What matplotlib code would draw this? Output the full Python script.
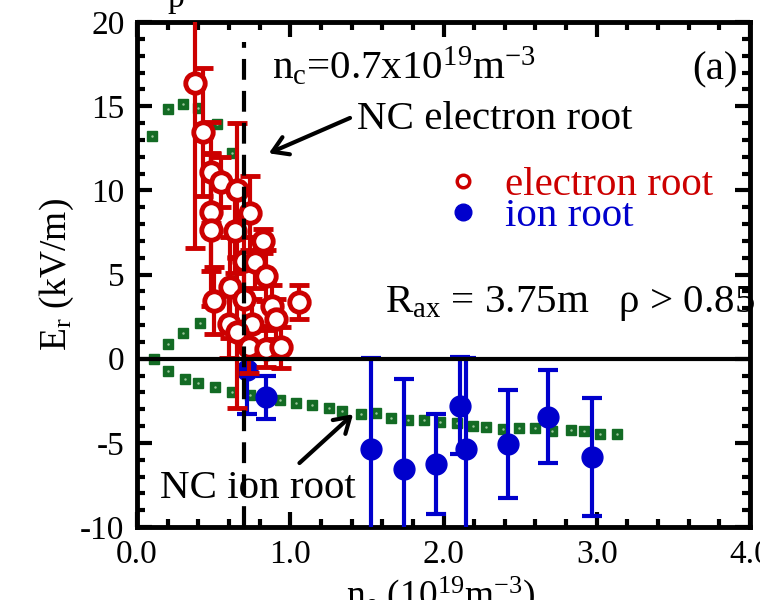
import matplotlib
matplotlib.use('Agg')
import matplotlib.pyplot as plt
from matplotlib.lines import Line2D
from matplotlib.ticker import MultipleLocator, FormatStrFormatter

plt.rcParams['font.family'] = ['Liberation Serif', 'DejaVu Serif']
plt.rcParams['mathtext.fontset'] = 'custom'
plt.rcParams['mathtext.rm'] = 'Liberation Serif'
plt.rcParams['mathtext.it'] = 'Liberation Serif:italic'
plt.rcParams['font.size'] = 24
plt.rcParams['axes.unicode_minus'] = False
plt.rcParams['lines.scale_dashes'] = False

RED = '#cc0000'
BLUE = '#0000cc'
GREEN = '#136b24'
TXT = 29.5

# measured Er, electron root
ne_elec = [0.38, 0.43, 0.48, 0.55, 0.65, 0.48, 0.48, 0.64, 0.74, 0.82, 0.70, 0.77, 0.84,
           0.61, 0.50, 0.70, 0.88, 1.06, 0.91, 0.60, 0.75, 0.65, 0.73, 0.84, 0.94]
er_elec = [16.4, 13.45, 11.07, 10.5, 10.0, 8.7, 7.65, 7.57, 8.64, 7.0, 5.8, 5.72, 4.93,
           4.24, 3.45, 3.55, 3.15, 3.35, 2.36, 2.06, 2.06, 1.56, 0.67, 0.58, 0.67]
err_elec = [9.8, 3.8, 3.0, 1.5, 4.0, 3.5, 4.5, 2.5, 2.2, 0.7, 2.5, 1.5, 1.5,
            3.0, 2.0, 2.0, 1.2, 1.0, 1.2, 2.0, 1.5, 4.5, 1.5, 1.1, 1.2]

# measured Er, ion root
ne_ion = [0.72, 0.84, 1.53, 1.74, 1.95, 2.11, 2.15, 2.42, 2.68, 2.97]
er_ion = [-0.67, -2.3, -5.37, -6.55, -6.26, -2.79, -5.37, -5.07, -3.45, -5.86]
err_ion = [2.6, 1.3, 5.4, 5.35, 2.95, 2.9, 5.4, 3.19, 2.75, 3.5]

# neoclassical calculation (green dots)
nc_up_x = [0.10, 0.20, 0.30, 0.40, 0.52, 0.62]
nc_up_y = [13.25, 14.85, 15.1, 14.9, 13.96, 12.24]
nc_mid_x = [0.20, 0.30, 0.41, 0.52, 0.62]
nc_mid_y = [0.9, 1.5, 2.1, 3.3, 4.6]
nc_ion_x = [0.11, 0.20, 0.31, 0.40, 0.51, 0.62, 0.74, 0.85, 0.93, 1.04, 1.14, 1.25, 1.34,
            1.46, 1.56, 1.66, 1.77, 1.87, 1.98, 2.09, 2.19, 2.28, 2.39, 2.49, 2.60, 2.71,
            2.83, 2.92, 3.02, 3.13]
nc_ion_y = [0.0, -0.71, -1.19, -1.43, -1.66, -1.96, -2.14, -2.32, -2.44, -2.61, -2.73,
            -2.91, -3.09, -3.27, -3.21, -3.5, -3.62, -3.62, -3.74, -3.80, -3.98, -4.04,
            -4.16, -4.10, -4.10, -4.28, -4.22, -4.28, -4.46, -4.46]

n_crit = 0.7

fig = plt.figure(figsize=(7.6, 6), dpi=100)
ax = fig.add_axes([137 / 760, 73 / 600, 613 / 760, 505 / 600])

# NC curve
for xs, ys in [(nc_up_x, nc_up_y), (nc_mid_x, nc_mid_y), (nc_ion_x, nc_ion_y)]:
    ax.plot(xs, ys, 's', color=GREEN, ms=6.5, zorder=2)
    ax.plot(xs, ys, '.', color='#9cc79c', ms=1.5, zorder=2.1)

ax.errorbar(ne_ion, er_ion, yerr=err_ion, fmt='o', color=BLUE, ms=15,
            elinewidth=3, capsize=7, capthick=3, zorder=3)
ax.errorbar(ne_elec, er_elec, yerr=err_elec, fmt='o', color=RED, mfc='white',
            mec=RED, mew=3.5, ms=14, elinewidth=3, capsize=7, capthick=3, zorder=4)

ax.axhline(0, color='k', lw=3, zorder=6)
ax.axvline(n_crit, color='k', lw=3, dashes=(15, 8), ymax=0.96, zorder=6)

ax.set_xlim(0, 4)
ax.set_ylim(-10, 20)
ax.xaxis.set_major_locator(MultipleLocator(1))
ax.xaxis.set_minor_locator(MultipleLocator(0.2))
ax.yaxis.set_major_locator(MultipleLocator(5))
ax.yaxis.set_minor_locator(MultipleLocator(1))
ax.xaxis.set_major_formatter(FormatStrFormatter('%.1f'))
ax.tick_params(which='both', direction='in', top=True, right=True, width=3)
ax.tick_params(which='major', length=11, pad=9)
ax.tick_params(which='minor', length=6)
for s in ax.spines.values():
    s.set_linewidth(3.5)

ax.set_ylabel(r'E$_\mathregular{r}$ (kV/m)', fontsize=27)
ax.yaxis.set_label_coords(-0.1, 0.5)
ax.set_xlabel(r'n$_\mathregular{e}$ (10$^\mathregular{19}$m$^\mathregular{-3}$)', va='top',
              fontsize=27)
ax.xaxis.set_label_coords(0.495, -0.095)

ax.text(0.22, 0.889, r'n$_\mathregular{c}$=0.7x10$^\mathregular{19}$m$^\mathregular{-3}$',
        transform=ax.transAxes, va='baseline', fontsize=TXT)
ax.text(0.98, 0.905, '(a)', transform=ax.transAxes, ha='right', va='center', fontsize=TXT)
ax.text(0.405, 0.426, r'R$_\mathregular{ax}$ = 3.75m   ρ > 0.85',
        transform=ax.transAxes, va='baseline', fontsize=TXT)

arrow = dict(arrowstyle='->,head_length=0.45,head_width=0.28', lw=3, color='k',
             shrinkA=0, shrinkB=0)
ax.text(1.435, 14.2, 'NC electron root', ha='left', va='center', fontsize=TXT)
ax.annotate('', xy=(0.86, 12.2), xytext=(1.39, 14.3), arrowprops=arrow)
ax.text(0.15, -7.7, 'NC ion root', ha='left', va='center', fontsize=TXT)
ax.annotate('', xy=(1.41, -3.3), xytext=(1.06, -6.2), arrowprops=arrow)

handles = [Line2D([], [], ls='none', marker='o', ms=9, mfc='white', mec=RED, mew=2.5),
           Line2D([], [], ls='none', marker='o', ms=12, color=BLUE)]
ax.legend(handles, ['electron root', 'ion root'], loc='center left',
          bbox_to_anchor=(0.498, 0.646), frameon=False, handlelength=1,
          handletextpad=0.52, borderpad=0, borderaxespad=0, labelspacing=-0.16,
          labelcolor='mec', fontsize=TXT)

fig.text(167 / 760, 1 - 7 / 600, 'p', ha='left', va='baseline')

fig.savefig('out.png', dpi=100)
